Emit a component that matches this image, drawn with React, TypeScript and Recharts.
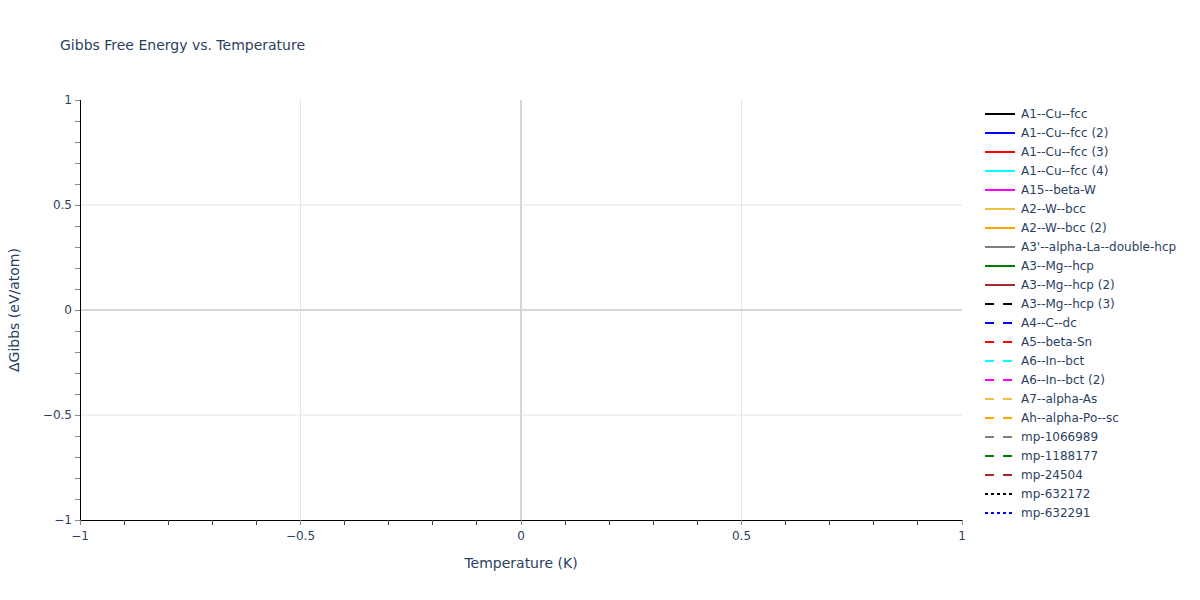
import { LineChart, Line, XAxis, YAxis, ReferenceLine, Legend, Label } from 'recharts';

// temperatures / energies for each phase (the reference plot is empty)
const temperatures: number[] = [];

const seriesNames = [
  'A1--Cu--fcc', 'A1--Cu--fcc (2)', 'A1--Cu--fcc (3)', 'A1--Cu--fcc (4)', 'A15--beta-W',
  'A2--W--bcc', 'A2--W--bcc (2)', "A3'--alpha-La--double-hcp", 'A3--Mg--hcp', 'A3--Mg--hcp (2)',
  'A3--Mg--hcp (3)', 'A4--C--dc', 'A5--beta-Sn', 'A6--In--bct', 'A6--In--bct (2)',
  'A7--alpha-As', 'Ah--alpha-Po--sc', 'mp-1066989', 'mp-1188177', 'mp-24504',
  'mp-632172', 'mp-632291',
];
const seriesColors = [
  '#000000', '#0000ff', '#ff0000', '#00ffff', '#ff00ff',
  '#eec43c', '#ffa500', '#808080', '#008000', '#a52a2a',
  '#000000', '#0000ff', '#ff0000', '#00ffff', '#ff00ff',
  '#eec43c', '#ffa500', '#808080', '#008000', '#a52a2a',
  '#000000', '#0000ff',
];
const seriesDash = [
  '', '', '', '', '', '', '', '', '', '',
  '9 9', '9 9', '9 9', '9 9', '9 9', '9 9', '9 9', '9 9', '9 9', '9 9',
  '3 3', '3 3',
];
const seriesValues: number[][] = seriesNames.map(() => []);

const xMajorTicks = [-1, -0.5, 0, 0.5, 1];
const xAllTicks = [-1, -0.9, -0.8, -0.7, -0.6, -0.5, -0.4, -0.3, -0.2, -0.1, 0, 0.1, 0.2, 0.3, 0.4, 0.5, 0.6, 0.7, 0.8, 0.9, 1];
const yMajorTicks = [-1, -0.5, 0, 0.5, 1];
const yAllTicks = [-1, -0.9, -0.8, -0.7, -0.6, -0.5, -0.4, -0.3, -0.2, -0.1, 0, 0.1, 0.2, 0.3, 0.4, 0.5, 0.6, 0.7, 0.8, 0.9, 1];
const gridValues = [-0.5, 0.5];

const FONT = '"DejaVu Sans", verdana, arial, sans-serif';
const TEXT = '#2a3f5f';

const isMajor = (v: number, majors: number[]) => majors.some((m) => Math.abs(m - v) < 1e-9);
const fmt = (v: number) => (v < 0 ? '\u2212' + String(-v) : String(v));

const data = temperatures.map((t, i) => {
  const row: Record<string, number> = { t };
  seriesNames.forEach((name, k) => { row[name] = seriesValues[k][i]; });
  return row;
});

function XTick(props: any) {
  const { x, y, payload } = props;
  const major = isMajor(payload.value, xMajorTicks);
  return (
    <g>
      <line x1={x} x2={x} y1={y} y2={y + 5} stroke={major ? '#888' : '#444'} strokeWidth={1} shapeRendering="crispEdges" />
      {major && (
        <text x={x} y={y + 20} textAnchor="middle" fill={TEXT} fontSize={12} fontFamily={FONT}>
          {fmt(payload.value)}
        </text>
      )}
    </g>
  );
}

function YTick(props: any) {
  const { x, y, payload } = props;
  const major = isMajor(payload.value, yMajorTicks);
  return (
    <g>
      <line x1={x - 5} x2={x} y1={y} y2={y} stroke="#888" strokeWidth={1} shapeRendering="crispEdges" />
      {major && (
        <text x={x - 8} y={y + 4} textAnchor="end" fill={TEXT} fontSize={12} fontFamily={FONT}>
          {fmt(payload.value)}
        </text>
      )}
    </g>
  );
}

function LegendBox() {
  return (
    <svg width={215} height={seriesNames.length * 19 + 4}>
      {seriesNames.map((name, i) => {
        const cy = 10 + i * 19;
        return (
          <g key={name}>
            <line x1={1} x2={31} y1={cy} y2={cy} stroke={seriesColors[i]} strokeWidth={2}
              strokeDasharray={seriesDash[i] || undefined} />
            <text x={37} y={cy + 4} fill={TEXT} fontSize={12} fontFamily={FONT}>{name}</text>
          </g>
        );
      })}
    </svg>
  );
}

export default function App() {
  return (
    <div style={{ position: 'relative', width: 1200, height: 600, fontFamily: FONT }}>
      <style>{'body{margin:0}'}</style>
      <div style={{ position: 'absolute', left: 60, top: 37, fontSize: 14, lineHeight: '16px', color: TEXT, zIndex: 1 }}>
        Gibbs Free Energy vs. Temperature
      </div>
      <LineChart width={1200} height={600} data={data} margin={{ top: 100, right: 238, bottom: 30, left: 0 }}>
        {gridValues.map((v) => (
          <ReferenceLine key={'gx' + v} x={v} stroke="#e5e5e5" strokeWidth={1} />
        ))}
        {gridValues.map((v) => (
          <ReferenceLine key={'gy' + v} y={v} stroke="#e5e5e5" strokeWidth={1} />
        ))}
        <ReferenceLine x={0} stroke="#d6d6d6" strokeWidth={2} />
        <ReferenceLine y={0} stroke="#d6d6d6" strokeWidth={2} />
        <XAxis
          dataKey="t"
          type="number"
          domain={[-1, 1]}
          ticks={xAllTicks}
          interval={0}
          allowDataOverflow
          height={50}
          tickSize={0}
          tickMargin={0}
          tickLine={false}
          axisLine={{ stroke: '#000', strokeWidth: 1, shapeRendering: 'crispEdges' }}
          tick={<XTick />}
        >
          <Label value="Temperature (K)" position="insideBottom" offset={2} fill={TEXT} fontSize={14} fontFamily={FONT} />
        </XAxis>
        <YAxis
          type="number"
          domain={[-1, 1]}
          ticks={yAllTicks}
          interval={0}
          allowDataOverflow
          width={80}
          tickSize={0}
          tickMargin={0}
          tickLine={false}
          axisLine={{ stroke: '#000', strokeWidth: 1, shapeRendering: 'crispEdges' }}
          tick={<YTick />}
        >
          <Label
            content={(p: any) => {
              const vb = p.viewBox || { x: 0, y: 100, height: 420 };
              const cx = vb.x + 14;
              const cy = vb.y + vb.height / 2;
              return (
                <text x={cx} y={cy} transform={`rotate(-90 ${cx} ${cy})`} textAnchor="middle"
                  dominantBaseline="central" fill={TEXT} fontSize={14} fontFamily={FONT}>
                  ΔGibbs (eV/atom)
                </text>
              );
            }}
          />
        </YAxis>
        <Legend
          layout="vertical"
          align="center"
          verticalAlign="middle"
          content={() => <LegendBox />}
          wrapperStyle={{ left: 984, top: 104, width: 215, height: 430 }}
        />
        {seriesNames.map((name, i) => (
          <Line key={name} dataKey={name} name={name} stroke={seriesColors[i]} strokeWidth={2}
            strokeDasharray={seriesDash[i] || undefined} dot={false} isAnimationActive={false} />
        ))}
      </LineChart>
    </div>
  );
}
